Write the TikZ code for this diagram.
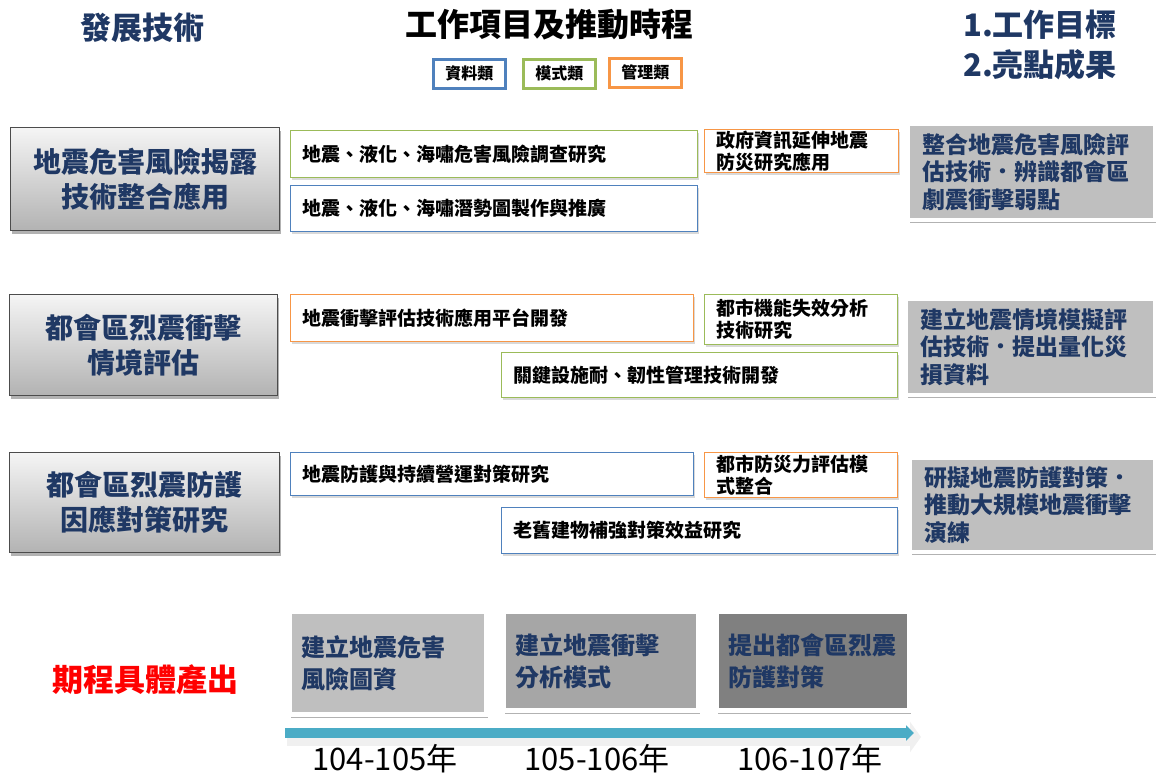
\documentclass[tikz,border=0pt]{standalone}
\usepackage{fontspec}
\newfontfamily\cjk{Noto Sans CJK TC}
\setmainfont{Noto Sans CJK TC}
\usetikzlibrary{shadows,arrows.meta}
\definecolor{dkblue}{RGB}{31,56,100}
\definecolor{lblue}{RGB}{79,129,189}
\definecolor{lgreen}{RGB}{155,187,89}
\definecolor{lorange}{RGB}{247,150,70}
\definecolor{arrowc}{RGB}{75,172,198}
\definecolor{sred}{RGB}{255,0,0}
\tikzset{
  shd/.style={drop shadow={shadow xshift=1.5pt, shadow yshift=-3pt, opacity=0.3, fill=black}},
  leftbox/.style={draw=black!70, line width=1.2pt, top color=black!4, bottom color=black!30,
    anchor=north west, align=center, text=dkblue, shd,
    font=\cjk\bfseries\fontsize{28}{35}\selectfont},
  itm/.style={draw=#1, line width=1.3pt, fill=white, anchor=north west, inner xsep=12pt,
    inner ysep=0pt, align=left, drop shadow={shadow xshift=1pt, shadow yshift=-2pt, opacity=0.15, fill=black},
    font=\cjk\bfseries\fontsize{19}{22}\selectfont},
  res/.style={fill=black!25, draw=white, line width=4pt, anchor=north west, inner xsep=14pt,
    align=left, text=dkblue, shd, font=\cjk\bfseries\fontsize{23}{27.5}\selectfont},
  outbox/.style={fill=#1, draw=white, line width=5pt, anchor=north west, inner xsep=12pt,
    align=left, text=dkblue, shd, font=\cjk\bfseries\fontsize{24}{32}\selectfont},
  legend/.style={draw=#1, line width=2.6pt, fill=white, minimum width=72pt, minimum height=29pt,
    anchor=north west, font=\cjk\bfseries\fontsize{16}{18}\selectfont, drop shadow={shadow xshift=1pt, shadow yshift=-2pt, opacity=0.2, fill=black}},
  head/.style={font=\cjk\bfseries\fontsize{31}{36}\selectfont, text=dkblue},
  yr/.style={font=\cjk\fontsize{31}{34}\selectfont, text=black},
}
\begin{document}
\begin{tikzpicture}[x=1pt,y=-1pt]
\path[use as bounding box] (0,0) rectangle (1156,776);

% headings
\node[head] (hdev) at (142,28) {發展技術};
\node[font=\cjk\bfseries\fontsize{32}{36}\selectfont] (hwork) at (549,25) {工作項目及推動時程};
\node[head, anchor=west, inner xsep=0pt] (hgoal1) at (963,25) {1.工作目標};
\node[head, anchor=west, inner xsep=0pt] (hgoal2) at (963,65) {2.亮點成果};

% legend
\node[legend=lblue] (lg1) at (432,58) {資料類};
\node[legend=lgreen] (lg2) at (522,58) {模式類};
\node[legend=lorange] (lg3) at (608,57) {管理類};

% row 1
\node[leftbox, minimum width=269pt, minimum height=103pt] (L1) at (10,127) {地震危害風險揭露\\技術整合應用};
\node[itm=lgreen, minimum width=407pt, minimum height=47pt, text width=383pt] (r1a) at (290,130) {地震、液化、海嘯危害風險調查研究};
\node[itm=lblue, minimum width=407pt, minimum height=46pt, text width=383pt] (r1b) at (290,185) {地震、液化、海嘯潛勢圖製作與推廣};
\node[itm=lorange, minimum width=194pt, minimum height=43pt, text width=170pt] (r1c) at (704,129) {政府資訊延伸地震\\防災研究應用};
\node[res, minimum width=247pt, minimum height=96pt, text width=219pt] (G1) at (906,122) {整合地震危害風險評\\估技術．辨識都會區\\劇震衝擊弱點};

% row 2
\node[leftbox, minimum width=268pt, minimum height=101pt] (L2) at (9,294) {都會區烈震衝擊\\情境評估};
\node[itm=lorange, minimum width=403pt, minimum height=47pt, text width=379pt] (r2a) at (290,294) {地震衝擊評估技術應用平台開發};
\node[itm=lgreen, minimum width=193pt, minimum height=50pt, text width=169pt] (r2b) at (704,294) {都市機能失效分析\\技術研究};
\node[itm=lgreen, minimum width=396pt, minimum height=45pt, text width=372pt] (r2c) at (501,352) {關鍵設施耐、韌性管理技術開發};
\node[res, minimum width=249pt, minimum height=96pt, text width=221pt] (G2) at (904,297) {建立地震情境模擬評\\估技術．提出量化災\\損資料};

% row 3
\node[leftbox, minimum width=270pt, minimum height=100pt] (L3) at (9,452) {都會區烈震防護\\因應對策研究};
\node[itm=lblue, minimum width=403pt, minimum height=43pt, text width=379pt] (r3a) at (290,452) {地震防護與持續營運對策研究};
\node[itm=lorange, minimum width=193pt, minimum height=45pt, text width=169pt] (r3b) at (704,452) {都市防災力評估模\\式整合};
\node[itm=lblue, minimum width=396pt, minimum height=46pt, text width=372pt] (r3c) at (501,507) {老舊建物補強對策效益研究};
\node[res, minimum width=245pt, minimum height=94pt, text width=217pt] (G3) at (908,456) {研擬地震防護對策．\\推動大規模地震衝擊\\演練};

% row 4
\node[font=\cjk\bfseries\fontsize{31}{36}\selectfont, text=sred] (hout) at (145,680) {期程具體產出};
\node[outbox=black!25, minimum width=197pt, minimum height=103pt, text width=173pt] (o1) at (287,609) {建立地震危害\\風險圖資};
\node[outbox=black!35, minimum width=195pt, minimum height=99pt, text width=171pt] (o2) at (501,609) {建立地震衝擊\\分析模式};
\node[outbox=black!50, minimum width=193pt, minimum height=99pt, text width=169pt] (o3) at (714,609) {提出都會區烈震\\防護對策};

% timeline arrow
\coordinate (ta) at (285,733);
\coordinate (tb) at (914,733);
\coordinate (tas) at (287,737);
\coordinate (tbs) at (921,737);
\draw[line width=17pt, black!6, -{Triangle[length=11pt,width=30pt]}] (tas) -- (tbs);
\draw[line width=10pt, arrowc, -{Triangle[length=8pt,width=15pt]}] (ta) -- (tb);

\node[yr] (y1) at (385,759) {104-105年};
\node[yr] (y2) at (597,759) {105-106年};
\node[yr] (y3) at (810,759) {106-107年};
\end{tikzpicture}
\end{document}
